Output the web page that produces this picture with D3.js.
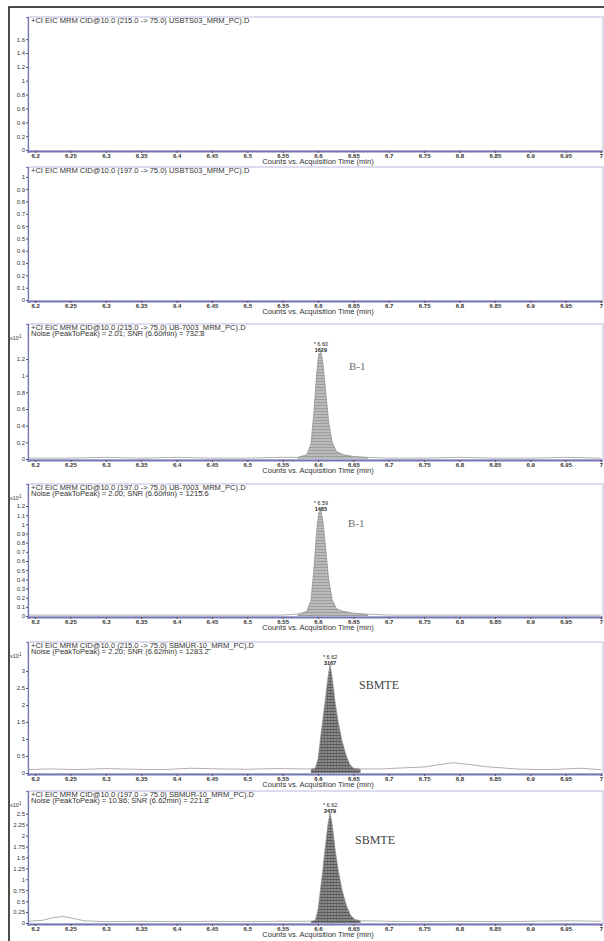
<!DOCTYPE html>
<html>
<head>
<meta charset="utf-8">
<script src="https://cdn.jsdelivr.net/npm/d3@7"></script>
<style>
body { margin: 0; background: #fff; }
</style>
</head>
<body>
<script>
//acquisition time ticks shared by every panel
var timeTicks = [6.2, 6.25, 6.3, 6.35, 6.4, 6.45, 6.5, 6.55, 6.6, 6.65, 6.7, 6.75, 6.8, 6.85, 6.9, 6.95, 7];
var timeTickLabels = ["6.2", "6.25", "6.3", "6.35", "6.4", "6.45", "6.5", "6.55", "6.6", "6.65", "6.7", "6.75", "6.8", "6.85", "6.9", "6.95", "7"];

//panel headers
var panelTitles = [
    "+CI EIC MRM CID@10.0 (215.0 -> 75.0) USBTS03_MRM_PC).D",
    "+CI EIC MRM CID@10.0 (197.0 -> 75.0) USBTS03_MRM_PC).D",
    "+CI EIC MRM CID@10.0 (215.0 -> 75.0) UB-7003_MRM_PC).D",
    "+CI EIC MRM CID@10.0 (197.0 -> 75.0) UB-7003_MRM_PC).D",
    "+CI EIC MRM CID@10.0 (215.0 -> 75.0) SBMUR-10_MRM_PC).D",
    "+CI EIC MRM CID@10.0 (197.0 -> 75.0) SBMUR-10_MRM_PC).D"
];
var noiseNotes = [
    "",
    "",
    "Noise (PeakToPeak) = 2.01; SNR (6.60min) = 732.8",
    "Noise (PeakToPeak) = 2.00; SNR (6.60min) = 1215.6",
    "Noise (PeakToPeak) = 2.20; SNR (6.62min) = 1283.2",
    "Noise (PeakToPeak) = 10.86; SNR (6.62min) = 221.8"
];
var peakTimeLabels = ["", "", "* 6.60", "* 6.59", "* 6.62", "* 6.62"];
var peakAreaLabels = ["", "", "1629", "1485", "3167", "2479"];
var compoundNames = ["", "", "B-1", "B-1", "SBMTE", "SBMTE"];
var scaleNotes = ["", "", "x10", "x10", "x10", "x10"];

//y ticks of each panel
var yTicks1 = [0, 0.2, 0.4, 0.6, 0.8, 1, 1.2, 1.4, 1.6];
var yTicks2 = [0, 0.1, 0.2, 0.3, 0.4, 0.5, 0.6, 0.7, 0.8, 0.9, 1];
var yTicks3 = [0, 0.2, 0.4, 0.6, 0.8, 1, 1.2];
var yTicks4 = [0, 0.1, 0.2, 0.3, 0.4, 0.5, 0.6, 0.7, 0.8, 0.9, 1, 1.1, 1.2];
var yTicks5 = [0, 0.5, 1, 1.5, 2, 2.5, 3];
var yTicks6 = [0, 0.25, 0.5, 0.75, 1, 1.25, 1.5, 1.75, 2, 2.25, 2.5];
var yMax = [1.92, 1.08, 1.62, 1.44, 3.85, 3.02];

//chromatogram traces (counts x10^1)
var time3 = [6.19, 6.25, 6.30, 6.35, 6.40, 6.45, 6.50, 6.55, 6.571, 6.584, 6.590, 6.594, 6.598, 6.601, 6.604, 6.607, 6.611, 6.615, 6.620, 6.626, 6.636, 6.651, 6.671, 6.70, 6.75, 6.80, 6.85, 6.90, 6.95, 7.0];
var counts3 = [0.01, 0.01, 0.02, 0.01, 0.02, 0.01, 0.01, 0.02, 0.02, 0.05, 0.18, 0.55, 1.02, 1.26, 1.28, 1.15, 0.80, 0.45, 0.20, 0.09, 0.05, 0.03, 0.02, 0.01, 0.01, 0.02, 0.01, 0.01, 0.02, 0.01];
var time4 = [6.19, 6.25, 6.30, 6.35, 6.40, 6.45, 6.50, 6.55, 6.571, 6.584, 6.590, 6.594, 6.598, 6.601, 6.604, 6.607, 6.611, 6.615, 6.620, 6.626, 6.636, 6.651, 6.671, 6.70, 6.75, 6.80, 6.85, 6.90, 6.95, 7.0];
var counts4 = [0.01, 0.01, 0.01, 0.01, 0.01, 0.01, 0.01, 0.01, 0.02, 0.05, 0.17, 0.50, 0.92, 1.13, 1.15, 1.03, 0.72, 0.40, 0.18, 0.08, 0.05, 0.03, 0.02, 0.01, 0.01, 0.01, 0.01, 0.01, 0.01, 0.01];
var time5 = [6.19, 6.22, 6.26, 6.30, 6.34, 6.38, 6.42, 6.46, 6.50, 6.54, 6.58, 6.590, 6.596, 6.600, 6.603, 6.607, 6.610, 6.614, 6.617, 6.620, 6.624, 6.628, 6.634, 6.640, 6.645, 6.650, 6.660, 6.69, 6.72, 6.75, 6.77, 6.79, 6.81, 6.84, 6.88, 6.91, 6.94, 6.97, 7.0];
var counts5 = [0.10, 0.12, 0.10, 0.13, 0.11, 0.10, 0.14, 0.12, 0.11, 0.13, 0.12, 0.12, 0.14, 0.40, 0.93, 1.60, 2.10, 2.80, 3.18, 2.80, 2.10, 1.55, 0.93, 0.50, 0.25, 0.14, 0.12, 0.12, 0.15, 0.18, 0.24, 0.30, 0.26, 0.18, 0.12, 0.10, 0.11, 0.14, 0.10];
var time6 = [6.19, 6.21, 6.225, 6.24, 6.255, 6.27, 6.30, 6.35, 6.40, 6.45, 6.50, 6.55, 6.590, 6.596, 6.600, 6.603, 6.607, 6.610, 6.614, 6.617, 6.620, 6.624, 6.628, 6.634, 6.640, 6.646, 6.652, 6.660, 6.70, 6.75, 6.80, 6.85, 6.90, 6.95, 7.0];
var counts6 = [0.04, 0.06, 0.12, 0.15, 0.10, 0.05, 0.03, 0.04, 0.03, 0.04, 0.03, 0.04, 0.04, 0.06, 0.30, 0.70, 1.25, 1.70, 2.25, 2.52, 2.25, 1.70, 1.25, 0.75, 0.40, 0.18, 0.08, 0.05, 0.04, 0.03, 0.04, 0.03, 0.04, 0.05, 0.04];

//integration windows
var peakStart = [0, 0, 6.571, 6.571, 6.590, 6.590];
var peakEnd = [0, 0, 6.671, 6.671, 6.660, 6.660];

window.onload = drawFigure();

function drawFigure(){
    var width = 604,
        height = 941;
    var sans = "Liberation Sans, Arial, sans-serif",
        serif = "Liberation Serif, Times New Roman, serif";

    var svg = d3.select("body")
        .append("svg")
        .attr("width", width)
        .attr("height", height);

    //hatch fills for integrated peaks
    var defs = svg.append("defs");
    var light = defs.append("pattern")
        .attr("id", "hatchLight")
        .attr("patternUnits", "userSpaceOnUse")
        .attr("width", 3).attr("height", 3);
    light.append("rect").attr("width", 3).attr("height", 3).attr("fill", "#bdbdbd");
    light.append("line").attr("x1", 0).attr("y1", 0.5).attr("x2", 3).attr("y2", 0.5)
        .attr("stroke", "#8f8f8f").attr("stroke-width", 0.8);
    light.append("line").attr("x1", 0.5).attr("y1", 0).attr("x2", 0.5).attr("y2", 3)
        .attr("stroke", "#a8a8a8").attr("stroke-width", 0.5);
    var dark = defs.append("pattern")
        .attr("id", "hatchDark")
        .attr("patternUnits", "userSpaceOnUse")
        .attr("width", 3).attr("height", 3);
    dark.append("rect").attr("width", 3).attr("height", 3).attr("fill", "#8a8a8a");
    dark.append("line").attr("x1", 0).attr("y1", 0.5).attr("x2", 3).attr("y2", 0.5)
        .attr("stroke", "#4e4e4e").attr("stroke-width", 0.8);
    dark.append("line").attr("x1", 0.5).attr("y1", 0).attr("x2", 0.5).attr("y2", 3)
        .attr("stroke", "#606060").attr("stroke-width", 0.6);

    //outer black frame
    svg.append("rect")
        .attr("x", 9).attr("y", 7)
        .attr("width", 605).attr("height", 945)
        .attr("fill", "none")
        .attr("stroke", "#111")
        .attr("stroke-width", 1.5);

    var x = d3.scaleLinear()
        .domain([6.19, 7.0])
        .range([28, 601]);

    //plot frame tops and bottoms
    var frames = [[17, 151], [167, 301], [324, 460], [484, 617], [642, 774], [791, 924]];
    var yTickSets = [yTicks1, yTicks2, yTicks3, yTicks4, yTicks5, yTicks6];
    var traces = [null, null, [time3, counts3], [time4, counts4], [time5, counts5], [time6, counts6]];
    var fills = ["", "", "url(#hatchLight)", "url(#hatchLight)", "url(#hatchDark)", "url(#hatchDark)"];
    var namePos = [null, null, [349, 370, 11, "#6a6a6a"], [348, 527, 11, "#6a6a6a"], [359, 689, 12, "#444"], [355, 844, 12, "#444"]];

    frames.forEach(function(f, i){
        var top = f[0], bottom = f[1];
        var y = d3.scaleLinear()
            .domain([0, yMax[i]])
            .range([bottom - 1, top]);
        var g = svg.append("g").attr("class", "panel");

        //light frame around plot area
        g.append("rect")
            .attr("x", x.range()[0]).attr("y", top)
            .attr("width", x.range()[1] + 2 - x.range()[0])
            .attr("height", bottom - top)
            .attr("fill", "none")
            .attr("stroke", "#b9b9dd")
            .attr("stroke-width", 1);

        //trace and filled peak
        if (traces[i]){
            var pts = traces[i][0].map(function(t, k){ return [t, traces[i][1][k]]; });
            var peakPts = pts.filter(function(p){ return p[0] >= peakStart[i] && p[0] <= peakEnd[i]; });
            g.append("path")
                .datum(peakPts)
                .attr("fill", fills[i])
                .attr("stroke", "none")
                .attr("d", d3.area()
                    .x(function(d){ return x(d[0]); })
                    .y0(y(0))
                    .y1(function(d){ return y(d[1]); }));
            g.append("path")
                .datum(pts)
                .attr("fill", "none")
                .attr("stroke", "#8d8d8d")
                .attr("stroke-width", 0.7)
                .attr("d", d3.line()
                    .x(function(d){ return x(d[0]); })
                    .y(function(d){ return y(d[1]); }));
        }

        //y axis
        var yAxis = g.append("g")
            .attr("transform", "translate(" + x.range()[0] + ",0)")
            .call(d3.axisLeft(y).tickValues(yTickSets[i]).tickSize(2).tickPadding(1)
                .tickFormat(function(d){ return String(+d.toFixed(2)); }));
        yAxis.select(".domain").attr("stroke", "#7676b4").attr("stroke-width", 1.2);
        yAxis.selectAll(".tick line").attr("stroke", "#555");
        yAxis.selectAll("text").attr("font-size", 6).attr("fill", "#333").attr("font-family", sans);

        //x axis
        var xAxis = g.append("g")
            .attr("transform", "translate(0," + bottom + ")")
            .call(d3.axisBottom(x).tickValues(timeTicks).tickSize(2).tickPadding(1)
                .tickFormat(function(d, k){ return timeTickLabels[k]; }));
        xAxis.select(".domain").attr("stroke", "#7676b4").attr("stroke-width", 2.2);
        xAxis.selectAll(".tick line").attr("stroke", "#555");
        xAxis.selectAll("text").attr("font-size", 6).attr("fill", "#333").attr("font-weight", "bold")
            .attr("font-family", sans);

        g.append("text")
            .attr("transform", "translate(318," + (bottom + 13) + ") scale(1.2,1)")
            .attr("text-anchor", "middle")
            .attr("font-family", sans)
            .attr("font-size", 6.3)
            .attr("fill", "#333")
            .text("Counts vs. Acquisition Time (min)");

        //headers
        g.append("text")
            .attr("transform", "translate(31," + (top + 6) + ") scale(1.2,1)")
            .attr("font-family", sans)
            .attr("font-size", 6.3)
            .attr("fill", "#333")
            .text(panelTitles[i]);
        if (noiseNotes[i]){
            g.append("text")
                .attr("transform", "translate(31," + (top + 12) + ") scale(1.2,1)")
                .attr("font-family", sans)
                .attr("font-size", 6.3)
                .attr("fill", "#333")
                .text(noiseNotes[i]);
        }
        if (scaleNotes[i]){
            var s = g.append("text")
                .attr("x", 10).attr("y", top + 16)
                .attr("font-family", sans)
                .attr("font-size", 5.5)
                .attr("fill", "#333");
            s.append("tspan").text(scaleNotes[i]);
            s.append("tspan").attr("dy", -2).attr("font-size", 4.5).text("1");
        }

        //peak annotations
        if (traces[i]){
            var apex = d3.greatest(pts, function(p){ return p[1]; });
            g.append("text")
                .attr("x", x(apex[0])).attr("y", y(apex[1]) - 6)
                .attr("text-anchor", "middle")
                .attr("font-family", sans)
                .attr("font-size", 5.5)
                .attr("fill", "#222")
                .text(peakTimeLabels[i]);
            g.append("text")
                .attr("x", x(apex[0])).attr("y", y(apex[1]))
                .attr("text-anchor", "middle")
                .attr("font-family", sans)
                .attr("font-size", 5.5)
                .attr("font-weight", "bold")
                .attr("fill", "#222")
                .text(peakAreaLabels[i]);
            g.append("text")
                .attr("x", namePos[i][0])
                .attr("y", namePos[i][1])
                .attr("font-family", serif)
                .attr("font-size", namePos[i][2])
                .attr("fill", namePos[i][3])
                .text(compoundNames[i]);
        }
    });
}
</script>
</body>
</html>
